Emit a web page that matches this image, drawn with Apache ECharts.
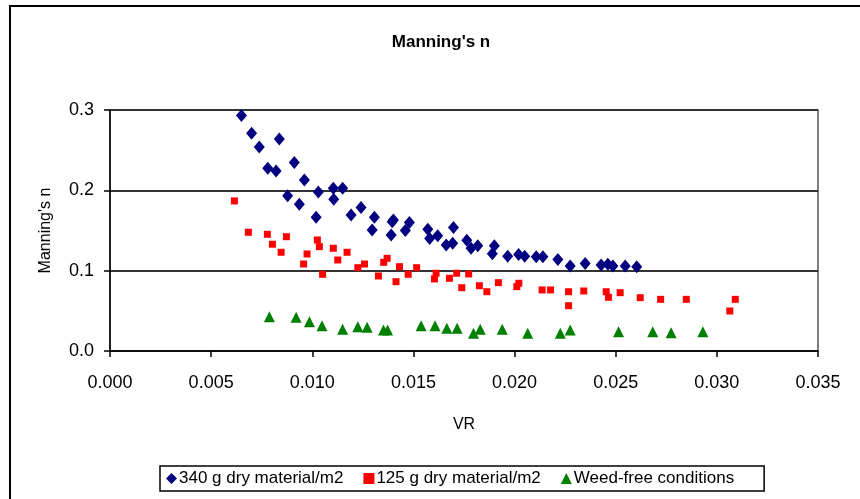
<!DOCTYPE html>
<html>
<head>
<meta charset="utf-8">
<script src="https://cdn.jsdelivr.net/npm/echarts@6/dist/echarts.min.js"></script>
<style>html,body{margin:0;padding:0;background:#fff}#c{width:860px;height:499px}</style>
</head>
<body>
<div id="c"></div>
<script>
var seriesNames = ["340 g dry material/m2", "125 g dry material/m2", "Weed-free conditions"];
var xTicks = [0, 0.005, 0.01, 0.015, 0.02, 0.025, 0.03, 0.035];
var yTicks = [0, 0.1, 0.2, 0.3];

var blue340 = [
  [0.00650,0.293],[0.00700,0.271],[0.00738,0.254],[0.00837,0.264],[0.00780,0.2275],
  [0.00821,0.224],[0.00911,0.2345],[0.00961,0.213],[0.00878,0.1934],[0.00936,0.1827],
  [0.0103,0.198],[0.01104,0.2026],[0.0115,0.2026],[0.01106,0.189],[0.01019,0.1665],
  [0.01192,0.1694],[0.01241,0.1785],[0.01307,0.1665],[0.01296,0.1507],[0.01395,0.161],
  [0.0139,0.1445],[0.01401,0.163],[0.0148,0.160],[0.0146,0.150],[0.01571,0.1515],
  [0.0158,0.140],[0.0162,0.1436],[0.01698,0.1536],[0.01662,0.132],[0.01694,0.134],
  [0.01764,0.138],[0.01785,0.128],[0.01818,0.131],[0.0190,0.131],[0.0189,0.121],
  [0.01966,0.118],[0.0202,0.120],[0.0205,0.118],[0.02107,0.1174],[0.0214,0.1174],
  [0.02214,0.114],[0.02275,0.1058],[0.02349,0.109],[0.02428,0.107],[0.02461,0.108],
  [0.02486,0.1058],[0.02547,0.1058],[0.02604,0.105]
];
var red125 = [
  [0.00615,0.1868],[0.00684,0.1478],[0.00778,0.1453],[0.00803,0.1329],[0.00872,0.1423],
  [0.00846,0.1229],[0.01025,0.1382],[0.01035,0.1299],[0.00974,0.1208],[0.00957,0.1083],
  [0.01051,0.0955],[0.01104,0.1279],[0.01172,0.1229],[0.01126,0.1133],[0.01225,0.1037],
  [0.01258,0.1083],[0.01353,0.1104],[0.0137,0.1154],[0.01327,0.0934],[0.01431,0.105],
  [0.01414,0.0863],[0.01474,0.0955],[0.01516,0.1037],[0.01604,0.0897],[0.01612,0.0968],
  [0.01678,0.0905],[0.01714,0.0968],[0.01739,0.0788],[0.01773,0.0959],[0.01826,0.0813],
  [0.01863,0.0738],[0.0192,0.0851],[0.02011,0.0801],[0.02021,0.0843],[0.02136,0.076],
  [0.02178,0.076],[0.02267,0.0738],[0.02267,0.0564],[0.02342,0.0747],[0.02453,0.0738],
  [0.02464,0.0668],[0.02522,0.0726],[0.02621,0.0664],[0.02722,0.0643],[0.02849,0.0643],
  [0.03064,0.0498],[0.03091,0.0643]
];
var greenWeedFree = [
  [0.00788,0.0427],[0.0092,0.042],[0.00986,0.0365],[0.01048,0.0315],[0.0115,0.027],
  [0.01225,0.0303],[0.01271,0.0295],[0.01352,0.0262],[0.01372,0.0262],[0.01538,0.0315],
  [0.01607,0.0315],[0.01665,0.0283],[0.01716,0.0283],[0.01797,0.022],[0.0183,0.027],
  [0.01939,0.027],[0.02065,0.022],[0.02226,0.022],[0.02275,0.0262],[0.02514,0.024],
  [0.02683,0.024],[0.02774,0.0228],[0.02931,0.024]
];

var chart = echarts.init(document.getElementById('c'), null, {renderer: 'canvas'});
var font = 'Arial, "Liberation Sans", sans-serif';
chart.setOption({
  animation: false,
  backgroundColor: '#fff',
  textStyle: {fontFamily: font},
  title: {
    text: "Manning's n",
    left: 436, top: 29, textAlign: 'center',
    textStyle: {fontSize: 17, fontWeight: 'bold', color: '#000', fontFamily: font}
  },
  graphic: [{
    type: 'rect', shape: {x: 10, y: 6, width: 870, height: 520},
    style: {fill: 'none', stroke: '#000', lineWidth: 2}, silent: true, z: -1
  }],
  grid: {left: 110, right: 42, top: 110, bottom: 148, show: true, borderColor: '#555', borderWidth: 1.5, backgroundColor: '#fff'},
  xAxis: {
    type: 'value', min: xTicks[0], max: xTicks[xTicks.length - 1], interval: 0.005,
    name: 'VR', nameLocation: 'middle', nameGap: 66,
    nameTextStyle: {fontSize: 16, color: '#000', fontFamily: font},
    axisLine: {show: true, lineStyle: {color: '#000', width: 1.5}},
    axisTick: {show: true, inside: false, length: 6, lineStyle: {color: '#000', width: 1.5}},
    axisLabel: {fontSize: 18, color: '#000', margin: 23, formatter: function (v) { return v.toFixed(3); }},
    splitLine: {show: false}
  },
  yAxis: {
    type: 'value', min: yTicks[0], max: yTicks[yTicks.length - 1], interval: 0.1,
    name: "Manning's n", nameLocation: 'middle', nameGap: 56, nameRotate: 90,
    nameTextStyle: {fontSize: 16, color: '#000', fontFamily: font},
    axisLine: {show: true, lineStyle: {color: '#000', width: 1.5}},
    axisTick: {show: true, inside: false, length: 6, lineStyle: {color: '#000', width: 1.5}},
    axisLabel: {fontSize: 18, color: '#000', margin: 16, formatter: function (v) { return v.toFixed(1); }},
    splitLine: {show: true, lineStyle: {color: '#333', width: 2}}
  },
  legend: {
    left: 160, top: 466,
    orient: 'horizontal',
    borderColor: '#000', borderWidth: 1.5,
    padding: [4, 30, 4, 6],
    itemGap: 20, itemWidth: 11, itemHeight: 11,
    textStyle: {fontSize: 17, color: '#000', fontFamily: font, padding: [0, 0, 0, -3]},
    data: [
      {name: seriesNames[0], icon: 'diamond'},
      {name: seriesNames[1], icon: 'rect', itemWidth: 8, itemHeight: 8},
      {name: seriesNames[2], icon: 'triangle'}
    ]
  },
  series: [
    {name: seriesNames[0], type: 'scatter', data: blue340, symbol: 'diamond', symbolSize: [11, 13],
     itemStyle: {color: '#000080', opacity: 1}},
    {name: seriesNames[1], type: 'scatter', data: red125, symbol: 'rect', symbolSize: 7,
     itemStyle: {color: '#ff0000', opacity: 1}},
    {name: seriesNames[2], type: 'scatter', data: greenWeedFree, symbol: 'triangle', symbolSize: [11, 11],
     itemStyle: {color: '#008000', opacity: 1}}
  ]
});
</script>
</body>
</html>
